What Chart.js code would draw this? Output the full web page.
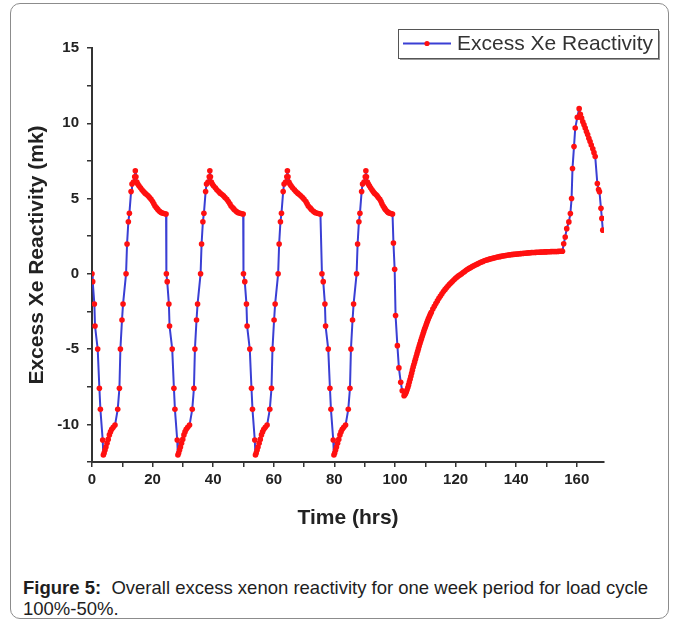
<!DOCTYPE html>
<html>
<head>
<meta charset="utf-8">
<script src="https://cdn.jsdelivr.net/npm/chart.js@4.4.1/dist/chart.umd.min.js"></script>
<style>
    html, body { margin: 0; padding: 0; background: #fff; }
    #figure { position: relative; width: 681px; height: 624px; overflow: hidden; }
    #frame {
        position: absolute; left: 10px; top: 3px; width: 659px; height: 616px;
        border: 1px solid #8c8c8c; border-radius: 10px; box-sizing: border-box;
    }
    #wrap { position: absolute; left: 0; top: 0; width: 681px; height: 560px; }
    #caption {
        position: absolute; left: 23px; top: 577px; width: 650px;
        font-family: "Liberation Sans", Arial, sans-serif; font-size: 18.5px;
        line-height: 21px; color: #1e1e1e;
    }
</style>
</head>
<body>
<div id="figure">
    <div id="frame"></div>
    <div id="wrap"><canvas id="xenonChart" width="681" height="560"></canvas></div>
    <div id="caption"><b>Figure 5:</b>&nbsp; Overall excess xenon reactivity for one week period for load cycle<br>100%-50%.</div>
</div>
<script>
// Excess Xe reactivity (mk) against time (hrs), day by day
const day1Hrs = [0, 0.23, 0.78, 1.0, 1.88, 2.44, 2.77, 3.53, 3.75, 4.0, 4.3, 4.6, 4.96, 5.35, 5.74, 6.1, 6.5, 7.0, 7.6,
    8.49, 9.05, 9.37, 9.9, 10.25, 11.24, 11.57, 12.0, 12.34, 12.9, 13.2, 13.7, 14.1, 14.3, 14.5, 14.8, 15.1,
    15.5, 16.0, 16.5, 17.0, 17.5, 18.0, 18.5, 19.0, 19.5, 20.0, 20.4, 20.8, 21.3, 21.7, 22.2, 22.6, 23.0, 23.5, 24.0, 24.45];
const day1Mk = [0, -0.52, -2.0, -3.47, -5.0, -7.6, -9.0, -11.04, -12.04, -11.9, -11.7, -11.5, -11.26, -11.0, -10.7, -10.5, -10.33, -10.2, -10.05,
    -9.0, -7.6, -5.0, -3.07, -2.0, 0, 1.98, 3.46, 4.02, 5.46, 5.97, 6.1, 6.45, 6.85, 6.45, 6.1, 5.97,
    5.85, 5.72, 5.58, 5.46, 5.36, 5.27, 5.18, 5.07, 4.95, 4.8, 4.65, 4.5, 4.38, 4.28, 4.17, 4.1, 4.06, 4.02, 3.99, 3.97];

const day2Hrs = [24.55, 24.83, 25.38, 25.6, 26.48, 27.04, 27.37, 28.13, 28.35, 28.6, 28.9, 29.2, 29.56, 29.95, 30.34, 30.7, 31.1, 31.6, 32.2,
    33.09, 33.65, 33.97, 34.5, 34.85, 35.84, 36.17, 36.6, 36.94, 37.5, 37.8, 38.3, 38.7, 38.9, 39.1, 39.4, 39.7,
    40.1, 40.7, 41.2, 41.8, 42.3, 42.9, 43.4, 43.9, 44.5, 45.0, 45.5, 45.9, 46.5, 46.9, 47.5, 47.9, 48.3, 48.9, 49.4, 49.9];
const day2Mk = [0, -0.52, -2.0, -3.47, -5.0, -7.6, -9.0, -11.04, -12.04, -11.9, -11.7, -11.5, -11.26, -11.0, -10.7, -10.5, -10.33, -10.2, -10.05,
    -9.0, -7.6, -5.0, -3.07, -2.0, 0, 1.98, 3.46, 4.02, 5.46, 5.97, 6.1, 6.45, 6.85, 6.45, 6.1, 5.97,
    5.85, 5.72, 5.58, 5.46, 5.36, 5.27, 5.18, 5.07, 4.95, 4.8, 4.65, 4.5, 4.38, 4.28, 4.17, 4.1, 4.06, 4.02, 3.99, 3.97];

const day3Hrs = [50.0, 50.43, 50.98, 51.2, 52.08, 52.64, 52.97, 53.73, 53.95, 54.2, 54.5, 54.8, 55.16, 55.55, 55.94, 56.3, 56.7, 57.2, 57.8,
    58.69, 59.25, 59.57, 60.1, 60.45, 61.44, 61.77, 62.2, 62.54, 63.1, 63.4, 63.9, 64.3, 64.5, 64.7, 65.0, 65.3,
    65.7, 66.2, 66.8, 67.3, 67.9, 68.4, 68.9, 69.5, 70.0, 70.6, 71.0, 71.4, 72.0, 72.4, 73.0, 73.4, 73.8, 74.4, 74.9, 75.4];
const day3Mk = [0, -0.52, -2.0, -3.47, -5.0, -7.6, -9.0, -11.04, -12.04, -11.9, -11.7, -11.5, -11.26, -11.0, -10.7, -10.5, -10.33, -10.2, -10.05,
    -9.0, -7.6, -5.0, -3.07, -2.0, 0, 1.98, 3.46, 4.02, 5.46, 5.97, 6.1, 6.45, 6.85, 6.45, 6.1, 5.97,
    5.85, 5.72, 5.58, 5.46, 5.36, 5.27, 5.18, 5.07, 4.95, 4.8, 4.65, 4.5, 4.38, 4.28, 4.17, 4.1, 4.06, 4.02, 3.99, 3.97];

const day4Hrs = [75.9, 76.33, 76.88, 77.1, 77.98, 78.54, 78.87, 79.63, 79.85, 80.1, 80.4, 80.7, 81.06, 81.45, 81.84, 82.2, 82.6, 83.1, 83.7,
    84.59, 85.15, 85.47, 86.0, 86.35, 87.34, 87.67, 88.1, 88.44, 89.0, 89.3, 89.8, 90.2, 90.4, 90.6, 90.9, 91.2,
    91.55, 91.95, 92.4, 92.8, 93.2, 93.7, 94.1, 94.5, 95.0, 95.4, 95.7, 96.1, 96.5, 96.8, 97.3, 97.6, 97.9, 98.4, 98.8, 99.2];
const day4Mk = [0, -0.52, -2.0, -3.47, -5.0, -7.6, -9.0, -11.04, -12.04, -11.9, -11.7, -11.5, -11.26, -11.0, -10.7, -10.5, -10.33, -10.2, -10.05,
    -9.0, -7.6, -5.0, -3.07, -2.0, 0, 1.98, 3.46, 4.02, 5.46, 5.97, 6.1, 6.45, 6.85, 6.45, 6.1, 5.97,
    5.85, 5.72, 5.58, 5.46, 5.36, 5.27, 5.18, 5.07, 4.95, 4.8, 4.65, 4.5, 4.38, 4.28, 4.17, 4.1, 4.06, 4.02, 3.99, 3.97];

// after the last power drop: dip and slow recovery (fine time steps)
const recoveryHrs = [99.5, 99.9, 100.2, 100.8, 101.3, 101.9, 102.4,
    103, 103.25, 103.5, 103.75, 104, 104.25, 104.5, 104.75, 105, 105.25, 105.5, 105.75, 106, 106.25, 106.5, 106.75,
    107, 107.25, 107.5, 107.75, 108, 108.25, 108.5, 108.75, 109, 109.25, 109.5, 109.75, 110, 110.25, 110.5, 110.75,
    111, 111.25, 111.5, 111.75, 112, 112.5, 113, 113.5, 114, 114.5, 115, 115.5, 116, 116.5, 117, 117.5, 118, 118.5,
    119, 119.5, 120, 120.5, 121, 121.5, 122, 122.5, 123, 123.5, 124, 124.5, 125, 125.5, 126, 126.5, 127, 127.5,
    128, 128.5, 129, 129.5, 130, 130.5, 131, 131.5, 132, 132.5, 133, 133.5, 134, 134.5, 135, 135.5, 136, 136.5,
    137, 137.5, 138, 138.5, 139, 139.5, 140, 140.5, 141, 141.5, 142, 142.5, 143, 143.5, 144, 144.5, 145, 145.5,
    146, 146.5, 147, 147.5, 148, 148.5, 149, 149.5, 150, 150.5, 151, 151.5, 152, 152.5, 153, 153.5, 154, 154.5, 155, 155.3];
const recoveryMk = [2.05, 0.3, -2.77, -4.77, -6.25, -7.2, -7.77,
    -8.1, -8.04, -7.95, -7.84, -7.7, -7.55, -7.38, -7.19, -7.0, -6.8, -6.6, -6.4, -6.2, -6.02, -5.85, -5.67,
    -5.5, -5.32, -5.15, -4.97, -4.8, -4.63, -4.47, -4.31, -4.15, -3.99, -3.84, -3.69, -3.55, -3.41, -3.27, -3.13,
    -3.0, -2.88, -2.77, -2.66, -2.55, -2.34, -2.15, -1.97, -1.8, -1.63, -1.47, -1.32, -1.18, -1.05, -0.93, -0.81, -0.7, -0.6,
    -0.5, -0.4, -0.3, -0.21, -0.13, -0.06, 0.0, 0.08, 0.15, 0.23, 0.3, 0.36, 0.42, 0.48, 0.53, 0.58, 0.63, 0.68,
    0.73, 0.78, 0.82, 0.86, 0.9, 0.93, 0.96, 0.99, 1.02, 1.05, 1.07, 1.1, 1.12, 1.14, 1.16, 1.18, 1.2, 1.22,
    1.23, 1.25, 1.26, 1.28, 1.29, 1.3, 1.31, 1.32, 1.33, 1.34, 1.35, 1.36, 1.37, 1.38, 1.39, 1.4, 1.41, 1.415,
    1.42, 1.425, 1.43, 1.435, 1.44, 1.445, 1.45, 1.455, 1.46, 1.465, 1.47, 1.475, 1.48, 1.48, 1.48, 1.485, 1.49, 1.495, 1.5, 1.5];

// final power rise at the end of the week
const finalHrs = [155.7, 156.2, 156.7, 157.4, 157.9, 158.3, 158.6, 159.1, 159.5, 160.2, 160.8, 161.2, 161.6, 162.0, 162.4, 162.8,
    163.2, 163.6, 164.0, 164.4, 164.8, 165.3, 165.7, 166.1, 166.8, 167.2, 167.5, 168.0, 168.3, 168.6];
const finalMk = [2.0, 2.45, 3.0, 3.45, 4.0, 5.0, 7.0, 8.45, 9.68, 10.4, 10.97, 10.6, 10.35, 10.1, 9.9, 9.68,
    9.45, 9.25, 9.0, 8.79, 8.55, 8.3, 8.05, 7.79, 6.0, 5.6, 5.45, 4.35, 3.68, 2.9];

const xTickStep = 10;
const yTickStep = 2.5;

function toPoints(hrs, mk) {
    return hrs.map((t, i) => ({ x: t, y: mk[i] }));
}

const points = [].concat(
    toPoints(day1Hrs, day1Mk),
    toPoints(day2Hrs, day2Mk),
    toPoints(day3Hrs, day3Mk),
    toPoints(day4Hrs, day4Mk),
    toPoints(recoveryHrs, recoveryMk),
    toPoints(finalHrs, finalMk)
);

const LINE_BLUE = "#3a3fd4";
const MARK_RED = "#ff1010";
const AXIS = "#333333";
const FONT = "'Liberation Sans', Arial, sans-serif";

// boxed legend in the upper right, line sample with a dot in the middle
const boxedLegend = {
    id: "boxedLegend",
    afterDraw(chart) {
        const ctx = chart.ctx;
        const x = 398, y = 29, w = 260, h = 29;
        ctx.save();
        ctx.fillStyle = "#9a9a9a";
        ctx.fillRect(x + 2, y + h, w, 2);
        ctx.fillRect(x + w, y + 2, 2, h);
        ctx.fillStyle = "#fff";
        ctx.fillRect(x, y, w, h);
        ctx.strokeStyle = "#555";
        ctx.lineWidth = 1;
        ctx.strokeRect(x + 0.5, y + 0.5, w, h);

        const cy = y + h / 2;
        ctx.strokeStyle = LINE_BLUE;
        ctx.lineWidth = 2;
        ctx.beginPath();
        ctx.moveTo(x + 5, cy);
        ctx.lineTo(x + 53, cy);
        ctx.stroke();
        ctx.fillStyle = MARK_RED;
        ctx.beginPath();
        ctx.arc(x + 29, cy, 2.6, 0, Math.PI * 2);
        ctx.fill();

        ctx.fillStyle = "#333";
        ctx.font = "21px " + FONT;
        ctx.textBaseline = "middle";
        ctx.fillText("Excess Xe Reactivity", x + 59, cy + 1);
        ctx.restore();
    },
};

Chart.defaults.font.family = FONT;

new Chart(document.getElementById("xenonChart").getContext("2d"), {
    type: "line",
    data: {
        datasets: [
            {
                label: "Excess Xe Reactivity",
                data: points,
                borderColor: LINE_BLUE,
                borderWidth: 2,
                borderJoinStyle: "round",
                pointRadius: 2.8,
                pointBorderWidth: 0,
                pointBackgroundColor: MARK_RED,
                tension: 0,
            },
        ],
    },
    options: {
        responsive: false,
        animation: false,
        layout: {
            padding: { left: 0, top: 48, right: 77, bottom: 0 },
        },
        plugins: {
            legend: { display: false },
            tooltip: { enabled: false },
        },
        scales: {
            x: {
                type: "linear",
                min: 0,
                max: 169,
                afterFit(scale) {
                    scale.height = 98;
                },
                border: { color: AXIS, width: 2 },
                grid: { drawOnChartArea: false, tickLength: 5, color: AXIS, lineWidth: 1.5 },
                ticks: {
                    stepSize: xTickStep,
                    includeBounds: false,
                    autoSkip: false,
                    maxRotation: 0,
                    padding: 4,
                    color: "#222",
                    font: { size: 15, weight: "bold" },
                    callback: (v) => (v % 20 === 0 ? v : ""),
                },
                title: {
                    display: true,
                    text: "Time (hrs)",
                    color: "#222",
                    font: { size: 21, weight: "bold" },
                    padding: { top: 0, bottom: 29 },
                },
            },
            y: {
                min: -12.5,
                max: 15,
                afterFit(scale) {
                    scale.width = 92;
                },
                border: { color: AXIS, width: 2 },
                grid: { drawOnChartArea: false, tickLength: 5, color: AXIS, lineWidth: 1.5 },
                ticks: {
                    stepSize: yTickStep,
                    autoSkip: false,
                    padding: 8,
                    color: "#222",
                    font: { size: 15, weight: "bold" },
                    callback: (v) => (v % 5 === 0 ? v : ""),
                },
                title: {
                    display: true,
                    text: "Excess Xe Reactivity (mk)",
                    color: "#222",
                    font: { size: 21, weight: "bold" },
                    padding: { top: 25, bottom: 0 },
                },
            },
        },
    },
    plugins: [boxedLegend],
});
</script>
</body>
</html>
